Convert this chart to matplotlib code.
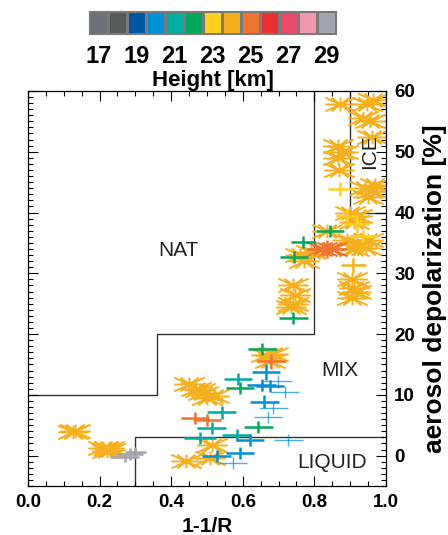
import numpy as np
import matplotlib
matplotlib.use('Agg')
import matplotlib.pyplot as plt
from matplotlib.path import Path
from matplotlib.colors import ListedColormap
from matplotlib.ticker import MultipleLocator

plt.rcParams['font.family'] = ['Liberation Sans', 'DejaVu Sans']

# colour scale (height in km)
heights = [17, 18, 19, 20, 21, 22, 23, 24, 25, 26, 27, 28, 29]
height_colors = ['#6d7278', '#555b5b', '#0055a5', '#0090d5', '#00ada5', '#00a85a',
                 '#fdd022', '#f5b020', '#ee7530', '#e83030', '#e84a6a', '#ef98b0', '#a0a6ac']
cbar_labels = [17, 19, 21, 23, 25, 27, 29]

# single measurements with error bars
cross_x = [0.655, 0.68, 0.665, 0.587, 0.592, 0.653, 0.676, 0.697, 0.718, 0.66,
           0.685, 0.67, 0.643, 0.541, 0.466, 0.50, 0.513, 0.48, 0.583, 0.62,
           0.727, 0.592, 0.527, 0.573, 0.741, 0.769, 0.743, 0.834, 0.844, 0.937,
           0.909, 0.89, 0.918, 0.872, 0.27, 0.285, 0.30]
cross_y = [17.5, 15.5, 13.7, 12.6, 11.1, 11.6, 11.5, 12.2, 10.5, 8.9,
           7.8, 6.3, 4.7, 7.1, 6.2, 5.9, 4.6, 2.9, 3.4, 2.5,
           2.5, 0.4, 0.0, -1.2, 22.7, 35.2, 32.7, 34.0, 37.0, 36.2,
           31.3, 39.5, 38.1, 43.9, -0.3, 0.2, 0.6]
cross_xerr = [0.04, 0.04, 0.04, 0.04, 0.04, 0.04, 0.04, 0.04, 0.04, 0.04,
              0.04, 0.04, 0.04, 0.04, 0.04, 0.04, 0.04, 0.045, 0.04, 0.04,
              0.04, 0.04, 0.04, 0.04, 0.04, 0.035, 0.04, 0.055, 0.04, 0.04,
              0.035, 0.03, 0.035, 0.035, 0.04, 0.035, 0.03]
cross_yerr = [1.0, 1.2, 1.3, 1.0, 1.0, 1.0, 1.0, 1.0, 1.0, 1.0,
              1.0, 1.0, 1.0, 1.0, 1.0, 1.0, 1.0, 1.0, 1.0, 1.0,
              1.0, 1.0, 1.0, 1.0, 1.0, 1.0, 1.0, 1.5, 1.0, 1.0,
              1.2, 1.0, 1.5, 1.2, 0.8, 1.0, 0.8]
cross_h = [22, 25, 20, 21, 22, 20, 20, 20, 20, 20,
           20, 20, 22, 21, 25, 25, 21, 21, 21, 20,
           20, 20, 20, 20, 22, 22, 22, 25, 22, 23,
           24, 23, 23, 23, 29, 29, 29]
cross_faint = [0, 0, 0, 0, 0, 0, 0, 1, 1, 0,
               1, 1, 0, 0, 0, 0, 0, 0, 0, 0,
               1, 0, 0, 1, 0, 0, 0, 0, 0, 0,
               0, 0, 0, 0, 0, 0, 0]

# averaged measurements drawn as asterisks
star_x = [0.872, 0.946, 0.965, 0.955, 0.935, 0.96,
          0.865, 0.865, 0.868, 0.88,
          0.94, 0.96, 0.95, 0.97,
          0.90, 0.92, 0.91,
          0.89, 0.92, 0.95, 0.91, 0.945,
          0.905, 0.91, 0.905, 0.915,
          0.835,
          0.76, 0.79, 0.82, 0.85, 0.77,
          0.74, 0.745, 0.74, 0.735,
          0.665, 0.685, 0.675,
          0.45, 0.47, 0.49, 0.50, 0.52, 0.48,
          0.513, 0.508, 0.44,
          0.127, 0.13,
          0.21, 0.22, 0.23, 0.225]
star_y = [57.9, 57.9, 58.5, 55.1, 55.5, 52.5,
          51.0, 49.0, 47.0, 50.0,
          44.0, 43.5, 42.5, 44.5,
          40.0, 39.5, 38.5,
          35.5, 35.0, 35.5, 34.0, 34.2,
          29.0, 27.5, 26.0, 27.0,
          37.0,
          33.0, 33.5, 34.0, 34.0, 32.0,
          28.0, 26.5, 25.0, 24.5,
          16.5, 16.8, 15.5,
          11.8, 11.0, 10.3, 9.5, 9.8, 10.8,
          1.8, -0.4, -0.9,
          3.9, 4.0,
          1.2, 0.8, 1.0, 1.3]
star_h = [24] * 27 + [24, 24, 25, 25, 24] + [24] * 22

# region boundaries
nat_x = [0.0, 0.36, 0.36, 0.8, 0.8]
nat_y = [10, 10, 20, 20, 60]
ice_x = [0.9, 0.9, 1.0]
ice_y = [60, 40, 40]
liq_x = [0.3, 0.3, 1.0]
liq_y = [-5, 3, 3]

color_of = dict(zip(heights, height_colors))

# asterisk marker, wider than tall
segs = [(1, 0), (1, 0.45), (1, -0.45), (0.6, 0.45), (0.6, -0.45), (0, 0.45)]
verts, codes = [], []
for dx, dy in segs:
    verts += [(-dx, -dy), (dx, dy)]
    codes += [Path.MOVETO, Path.LINETO]
star = Path(verts, codes)

fig = plt.figure(figsize=(4.48, 5.35), dpi=100)
ax = fig.add_axes([0.0625, 0.0916, 0.7991, 0.7384])

for x, y, h in zip(star_x, star_y, star_h):
    ax.plot(x, y, marker=star, markersize=22, mew=1.4, color=color_of[h],
            linestyle='none', zorder=2)

for x, y, xe, ye, h, f in zip(cross_x, cross_y, cross_xerr, cross_yerr, cross_h, cross_faint):
    ax.errorbar(x, y, xerr=xe, yerr=ye, fmt='none', ecolor=color_of[h],
                elinewidth=1.0 if f else 1.8, capsize=0, alpha=0.7 if f else 1.0, zorder=3)

ax.plot(nat_x, nat_y, color='#333333', lw=1.0, zorder=1)
ax.plot(ice_x, ice_y, color='#333333', lw=1.0, zorder=1)
ax.plot(liq_x, liq_y, color='#333333', lw=1.0, zorder=1)

ax.text(0.42, 33.8, 'NAT', fontsize=15, ha='center', va='center', color='#222222')
ax.text(0.87, 14, 'MIX', fontsize=15, ha='center', va='center', color='#222222')
ax.text(0.85, -1.2, 'LIQUID', fontsize=15, ha='center', va='center', color='#222222')
ax.text(0.955, 50, 'ICE', fontsize=15, ha='center', va='center', rotation=90, color='#222222')

ax.set_xlim(0, 1)
ax.set_ylim(-5, 60)
ax.xaxis.set_major_locator(MultipleLocator(0.2))
ax.xaxis.set_minor_locator(MultipleLocator(0.05))
ax.yaxis.set_major_locator(MultipleLocator(10))
ax.yaxis.set_minor_locator(MultipleLocator(1))
ax.tick_params(which='both', direction='in', top=True, bottom=True, left=True, right=True,
               labelleft=False, labelright=True, width=0.8)
ax.tick_params(which='major', length=7, labelsize=13.5, pad=6)
ax.tick_params(which='minor', length=3.5)
for t in ax.get_xticklabels() + ax.get_yticklabels():
    t.set_fontweight('bold')
ax.xaxis.set_major_formatter(matplotlib.ticker.FormatStrFormatter('%.1f'))
for tk in ax.yaxis.get_major_ticks():
    tk.tick1line.set_color('#4a8fd0')

ax.set_xlabel('1-1/R', fontsize=15, fontweight='bold', labelpad=4)
ax.yaxis.set_label_position('right')
ax.set_ylabel('aerosol depolarization [%]', fontsize=19, fontweight='bold', labelpad=6)
for s in ax.spines.values():
    s.set_linewidth(0.9)

# colour bar
cax = fig.add_axes([0.1987, 0.9364, 0.5513, 0.043])
cax.pcolormesh(np.arange(len(heights) + 1), [0, 1], np.arange(len(heights))[None, :],
               cmap=ListedColormap(height_colors), edgecolors='#7a7a7a', linewidth=0.8)
cax.set_xlim(0, len(heights))
cax.set_ylim(0, 1)
cax.set_yticks([])
cax.set_xticks([heights.index(v) + 0.5 for v in cbar_labels])
cax.set_xticklabels([str(v) for v in cbar_labels], fontsize=17, fontweight='bold')
cax.tick_params(length=0, pad=8)
cax.set_xlabel('Height [km]', fontsize=16, fontweight='bold', labelpad=1)
for s in cax.spines.values():
    s.set_color('#7a7a7a')

fig.savefig('out.png', dpi=100)
